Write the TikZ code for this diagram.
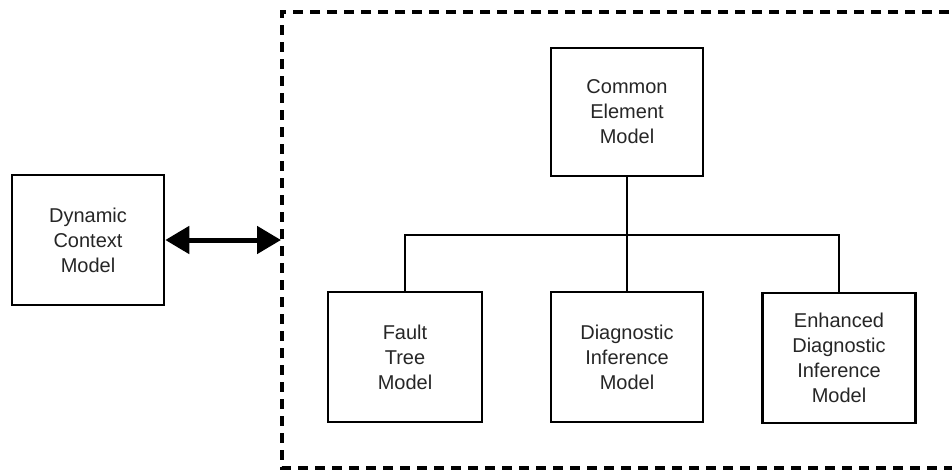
\documentclass[tikz,border=0pt]{standalone}
\usepackage{fontspec}
\setmainfont{Liberation Sans}
\usetikzlibrary{arrows.meta}
\begin{document}
\begin{tikzpicture}[x=1pt,y=-1pt,
  modelbox/.style={draw=black, line width=2.6pt, fill=white, align=center,
    inner sep=0pt, text=black!85,
    font=\fontsize{20}{25}\selectfont},
  frame/.style={draw=black, line width=3.6pt, dash pattern=on 10pt off 7pt},
  link/.style={draw=black, line width=2.6pt},
  bigtip/.style={Triangle[length=24pt,width=27pt]}]
  \useasboundingbox (0,0) rectangle (952,471);
  % system boundary, open beyond the right edge
  \draw[frame] (1000,12) -- (282,12) -- (282,468) -- (1000,468);
  % external model
  \node[modelbox, minimum width=152pt, minimum height=130pt] (dcm) at (88,240)
    {Dynamic\\Context\\Model};
  \coordinate (edge) at (281,240);
  \draw[line width=5pt, {Triangle[length=24pt,width=27pt]}-{Triangle[length=24pt,width=27pt]}]
    (dcm.east |- edge) -- (edge);
  % model hierarchy
  \node[modelbox, minimum width=152pt, minimum height=128pt] (cem) at (627,112)
    {Common\\Element\\Model};
  \node[modelbox, minimum width=154pt, minimum height=130pt] (ftm) at (405,357)
    {Fault\\Tree\\Model};
  \node[modelbox, minimum width=152pt, minimum height=130pt] (dim) at (627,357)
    {Diagnostic\\Inference\\Model};
  \node[modelbox, minimum width=153pt, minimum height=130pt] (edim) at (839,358)
    {Enhanced\\Diagnostic\\Inference\\Model};
  \coordinate (bus) at (627,235);
  \draw[link] (cem.south) -- (dim.north);
  \draw[link] (ftm.north) -- (ftm.north |- bus) -- (edim.north |- bus) -- (edim.north);
\end{tikzpicture}
\end{document}
